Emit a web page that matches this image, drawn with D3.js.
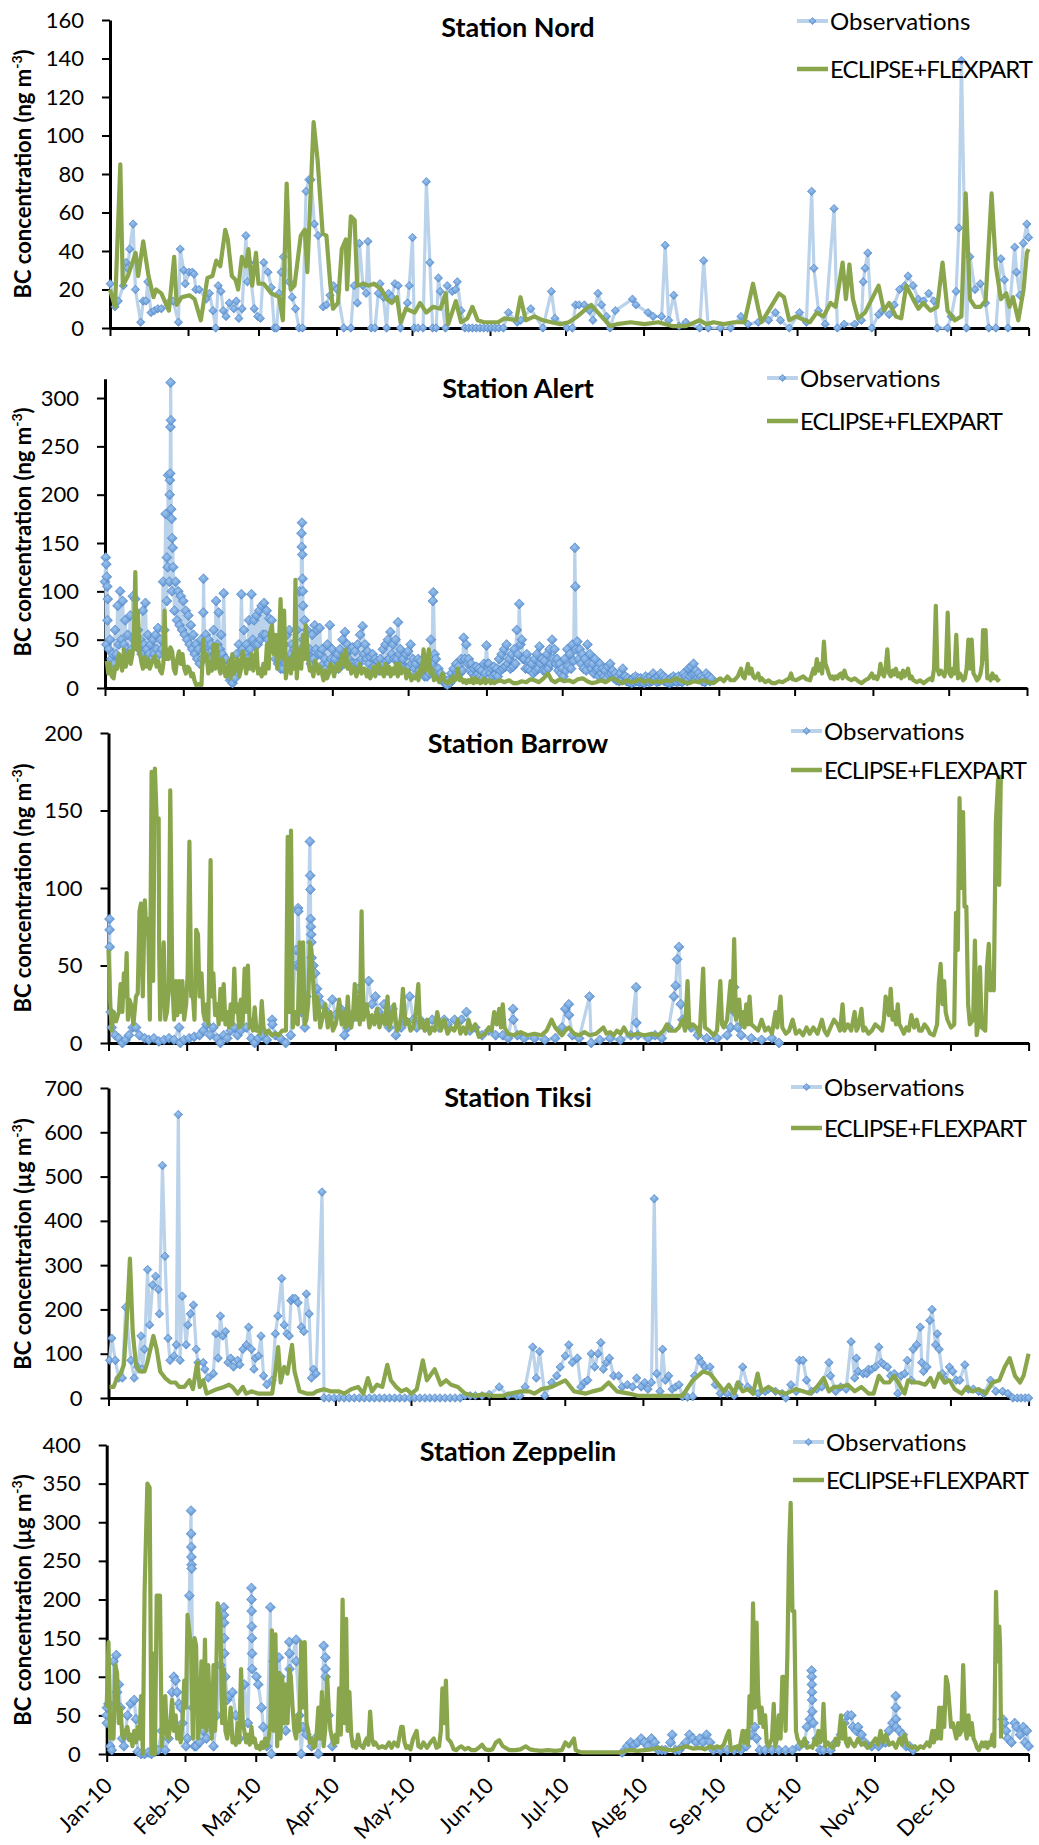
<!DOCTYPE html>
<html>
<head>
<meta charset="utf-8">
<script src="https://cdnjs.cloudflare.com/ajax/libs/d3/7.8.5/d3.min.js"></script>
<style>
  body { margin: 0; background: #fff; }
</style>
</head>
<body>
<div id="container"></div>
<script>
const WIDTH = 1039;
const HEIGHT = 1845;
const FONT = 'Lato, "Open Sans", sans-serif';
const YEAR_START = new Date(2010, 0, 1);
const YEAR_END = new Date(2011, 0, 1);
const DAY_MS = 864e5;

const OBS_LINE = '#bad2ea';
const OBS_EDGE = '#4d82c2';
const MODEL = '#8aa64c';

// tick labels and legend texts
const monthLabels = ['Jan-10', 'Feb-10', 'Mar-10', 'Apr-10', 'May-10', 'Jun-10',
                     'Jul-10', 'Aug-10', 'Sep-10', 'Oct-10', 'Nov-10', 'Dec-10'];
const seriesNames = ['Observations', 'ECLIPSE+FLEXPART'];
const stationNames = ['Station Nord', 'Station Alert', 'Station Barrow', 'Station Tiksi', 'Station Zeppelin'];
const units = ['ng', 'ng', 'ng', '\u00b5g', '\u00b5g'];

// data: [day of year 2010, value]
const nordObs = [
[0.1,23],[2,11],[3.3,14],[5.3,22],[6.4,34],[7,31],[7.8,41],[9.2,54],[10.1,20],[12.2,3],[13.2,14],[14.3,14],[15,24],[16.3,8],[17.6,9],[19,10],[20.4,10],[23.1,13],[25.1,14],[27.2,3],[27.9,41],[29.3,30],[29.9,23],[31.4,29],[32.7,29],[33.4,28],[34.1,20],[35.4,20],[38.2,15],[39.5,18],[40.9,9],[42,0],[43,22],[44.1,19],[45,9],[46.1,6],[47.4,13],[49.2,10],[50.2,14],[51.2,5],[52.5,10],[54,48],[54.6,24],[55.3,34],[57.3,10],[58.7,6],[59.8,5],[61.1,34],[62.8,29],[64.1,21],[65.3,0],[66.2,0],[67.2,18],[68,29],[68.9,37],[71.1,24],[72.4,16],[73.7,10],[75.1,0],[76.5,0],[77.9,71],[79,77],[79.9,77],[81.2,54],[82.7,48],[84.7,11],[86,12],[87.4,17],[88.8,22],[90.2,20],[92.9,0],[95.7,0],[97,22],[98.3,13],[99.1,44],[100.5,22],[101.8,18],[102.5,45],[103.8,0],[105.3,0],[106.6,18],[107.3,23],[108.6,16],[109.9,0],[110.7,18],[112,16],[113.2,23],[114.5,22],[115.4,0],[118.2,13],[118.9,22],[120.2,47],[120.9,0],[122.4,0],[124.4,0],[125.7,76],[127.1,34],[128.2,0],[129.6,0],[130.5,26],[131.2,19],[133.3,0],[134,22],[136,19],[137.3,20],[138,24],[139.5,9],[141,0],[142.5,0],[144,0],[145.5,0],[147,0],[148.5,0],[150,0],[151.5,0],[153,0],[154.5,0],[156.3,0],
[158.3,8],[161.8,3],[163.2,4],[167.2,10],[172,0],[175.4,19],[176.8,5],[181.6,0],[183.7,0],[185,12],[186.4,12],[188.5,12],[190.5,9],[191.9,4],[193.9,18],[195.3,12],[197.3,6],[198.7,0],[200.8,9],[207.6,15],[209,12],[213.8,8],[215.8,6],[219.2,6],[220.6,43],[222,4],[224,17],[226.1,1],[228.8,3],[234.3,0],[235.9,35],[237.7,0],[242.5,0],[246.6,0],[250.7,6],[253.5,2],[257.6,3],[261.7,4],[264.4,8],[266.4,4],[269.9,0],[274,8],[276.7,3],[278.8,71],[279.7,31],[281.5,9],[284.2,2],[287.7,62],[289,0],[291.7,2],[295.9,2],[298.6,4],[299.3,24],[300,31],[301.1,39],[302.7,0],[305.4,7],[306.8,9],[309.6,7],[311.6,12],[313.7,20],[315.7,22],[317.1,27],[319.1,22],[321.2,15],[323.2,14],[325.3,18],[327.4,14],[328.7,0],[332.8,0],[334.2,6],[336.2,19],[337.3,52],[338.3,139],[340.3,0],[341.7,37],[343.7,20],[345.8,23],[347.9,13],[349.2,0],[352,0],[354,36],[355.4,25],[356.8,0],[359.5,42],[360.2,29],[361.5,17],[362.9,44],[364.3,54],[365,47]
];

const nordModel = [
[0,20],[2,11],[4.1,85],[5.1,22],[7.1,27],[10.2,39],[11.2,27],[13.2,45],[15.3,27],[17.3,16],[18.3,20],[20.4,18],[23.4,9],[25.5,37],[26.5,12],[28.5,16],[31.6,17],[33.6,15],[36.1,4],[38.7,26],[40.7,27],[42.2,35],[43.8,32],[45.8,51],[46.8,46],[48.4,27],[49.9,25],[50.9,20],[52.4,37],[54,32],[55,41],[56.5,22],[58,39],[59,23],[61.1,23],[64.1,18],[67.2,16],[68.7,4],[70.2,75],[71.8,20],[73.3,22],[75.8,48],[77.4,51],[78.4,29],[80.9,107],[82.5,87],[84.5,49],[86,48],[87.5,23],[88.6,10],[90.6,13],[92.1,41],[93.7,46],[94.2,20],[95.7,58],[97.2,56],[98.2,22],[100.8,23],[102.8,22],[104.9,23],[107.9,20],[109.9,15],[112,13],[114,16],[115.5,3],[117.6,10],[121.1,8],[123.2,13],[125.7,8],[128.3,11],[131.3,10],[133.4,18],[134.4,2],[137.4,14],[139.5,3],[142,5],[144,11],[146.1,4],[148.6,3],[151.7,3],[154.2,3],[156.8,5],[161.4,4],
[163.1,16],[165.2,4],[168.6,6],[172,4],[175.4,3],[178.9,2],[182.3,3],[185.7,6],[188.4,9],[191.2,12],[193.9,8],[196.7,4],[198.7,1],[201.4,2],[206.9,3],[212.4,2],[217.9,3],[223.4,1],[228.8,1],[234.3,4],[237,2],[239.8,3],[243.9,2],[248,3],[252.1,3],[255.5,23],[257.6,10],[258.9,3],[261.7,9],[265.8,18],[267.8,16],[269.9,4],[272.6,6],[276,4],[278.1,3],[280.8,8],[283.5,6],[286.3,13],[288.3,11],[291.1,34],[292.4,15],[293.8,33],[295.2,15],[297.2,5],[300,8],[302.7,15],[305.4,22],[307.5,9],[309.6,13],[312.3,6],[314.4,5],[316.4,22],[319.1,15],[321.2,10],[323.2,13],[326,9],[328.7,11],[330.8,34],[332.8,9],[335.6,4],[338.3,6],[340,70],[341.7,15],[343.7,11],[345.8,11],[347.9,14],[350.3,70],[352,32],[354,15],[356.1,18],[357.4,11],[358.8,16],[360.9,4],[363,20],[364.3,39],[365,41]
];

// Alert observations: daily upper readings from 1 Jan, daily lower readings at mid-day,
// plus the extra readings stacked inside the spikes
const alertObsDaily = [
110,70,50,35,60,85,100,90,70,55,75,95,92,60,50,80,88,55,45,50,
55,62,50,110,180,220,316,125,110,100,95,90,80,75,65,55,45,40,50,113,
55,50,45,60,90,78,55,98,30,15,10,20,35,45,97,60,45,70,97,70,
75,80,85,88,80,72,70,50,40,30,35,45,55,60,45,40,60,100,171,70,
60,40,55,65,60,62,40,30,45,65,40,30,35,40,50,58,45,40,42,38,
45,55,64,45,38,32,35,30,28,30,40,45,50,58,45,50,68,40,30,35,
38,45,30,25,30,28,22,20,25,50,99,30,20,15,10,5,8,15,20,25,
22,30,52,45,30,25,20,22,20,18,25,44,25,20,22,20,30,35,40,45,
30,35,40,60,87,50,30,35,28,25,30,35,43,30,28,35,40,50,40,30,
25,20,30,40,35,45,145,48,40,35,30,45,35,25,30,20,25,20,18,22,
25,18,15,12,15,20,12,10,8,10,12,10,10,8,12,10,12,15,10,12,
15,12,10,8,10,12,10,12,10,15,12,20,22,25,18,15,12,10,15,12,10
];
const alertObsLow = [
45,40,30,25,35,45,50,45,40,35, 40,50,45,40,35,45,40,35,30,35,
40,35,40,60,90,110,100,80,70,65, 60,55,50,45,40,35,30,25,30,40,
35,30,30,35,45,40,35,30,15,8, 5,10,20,25,40,35,30,40,50,45,
45,50,55,55,50,45,40,30,25,20, 20,25,30,35,30,25,30,40,50,40,
35,25,30,40,35,35,25,20,25,30, 25,20,20,25,30,35,30,25,25,25,
25,30,35,30,25,20,22,20,18,20, 25,28,30,35,30,30,35,25,20,20,
22,25,20,15,18,15,12,12,15,25, 35,18,12,8,5,3,5,8,12,15,
15,18,30,25,18,15,12,14,12,10, 15,25,15,12,14,12,18,20,22,25,
20,22,25,35,45,30,20,20,18,15, 18,20,25,18,18,20,25,30,25,18,
15,12,18,22,20,28,40,30,25,20, 18,25,20,15,18,12,15,12,10,14,
15,10,8,7,8,12,7,6,5,6, 7,6,6,5,7,6,7,9,6,7,
9,7,6,5,6,7,6,7,6,9, 7,12,14,15,10,9,7,6,9,7
];
const alertObsStacks = [
[0.3,135],[0.5,128],[0.7,115],[0.9,105],[1.1,92],[24.5,135],[24.8,125],[25.6,200],[25.7,215],[25.8,222],[25.9,270],[26.1,277],[26.2,185],[26.4,175],[26.6,155],[26.8,145],
[38.9,78],[77.8,160],[77.9,146],[78.1,138],[78.2,113],[78.3,100],[78.4,85],[129.8,90],[186.2,105]
];

const alertModel = [
[0.7,28],[1.3,15],[2,25],[2.7,12],[3.4,10],[4.1,22],[4.8,20],[5.5,35],[6.1,30],[6.8,18],[7.5,40],[8.2,22],[8.9,30],[9.6,38],[10.2,25],[10.9,35],[11.5,60],[12,120],[12.5,40],[13,80],[13.6,40],[14.3,28],[15,20],[15.7,32],[16.3,22],[17,30],[17.7,20],[18.4,25],[19.1,30],[19.8,33],[20.4,22],[21.1,28],[21.8,18],[22.5,15],[23.1,25],[23.6,80],[24.1,30],[24.5,40],[25.2,30],[25.9,42],[26.6,38],[27.2,20],[27.9,15],[28.6,30],[29.3,38],[30,25],[30.7,35],[31.4,20],[32,15],[32.7,22],[33.4,20],[34.1,12],[34.8,15],[35.4,8],[36.1,3],[37.1,4],[38.2,3],[38.9,50],[39.5,28],[40.2,35],[40.9,15],[41.6,25],[42.3,18],[42.9,45],[43.6,20],[44.3,45],[45,22],[45.7,15],[46.4,30],[47,25],[47.7,12],[48.4,15],[49.1,28],[49.7,10],[50.4,35],[51.1,15],[51.8,25],[52.5,30],[53.2,12],[53.9,20],[54.5,38],[55.2,30],[55.9,15],[56.6,30],[57.3,20],[58,35],[58.7,18],[59.3,30],[60,40],[60.6,15],[61.3,20],[62,12],[62.7,25],[63.4,15],[64.1,45],[64.8,20],[65.4,58],[66.1,65],[66.8,35],[67.5,55],[68.2,20],[68.8,40],[69.5,92],[70.2,30],[70.9,80],[71.6,10],[72.3,25],[72.9,30],[73.6,15],[74.3,35],[74.9,20],[75.4,112],[75.9,10],[76.4,28],[77,40],[77.7,20],[78.4,55],[79,30],[79.5,65],[80.4,30],[81.1,18],[81.8,20],[82.5,12],[83.1,28],[83.8,25],[84.5,15],[85.2,22],[85.9,15],[86.5,8],[87.2,18],[87.9,10],[88.6,15],[89.3,25],[90,20],[90.7,12],[91.3,22],[92,25],[92.7,18],[93.4,30],[94.1,35],[94.8,22],[95.4,40],[96.1,20],[96.8,25],[97.5,15],[98.2,22],[98.8,20],[99.5,12],[100.2,18],[100.9,25],[101.6,15],[102.2,20],[102.9,20],[103.6,12],[104.3,18],[105,10],[105.7,15],[106.4,22],[107,12],[107.7,20],[108.4,25],[109.1,15],[109.8,20],[110.4,12],[111.1,25],[111.8,15],[112.5,22],[113.1,12],[113.8,20],[114.5,15],[115.2,25],[115.9,12],[116.6,25],[117.2,15],[117.9,20],[118.6,20],[119.3,10],[120,18],[120.7,15],[121.3,8],[122,12],[122.7,10],[123.4,15],[124.1,8],[124.8,20],[125.4,15],[126.1,40],[126.8,18],[127.5,25],[128.2,40],[128.8,15],[129.5,20],[130.2,8],[130.9,12],[131.6,10],[132.3,6],[133,10],[133.6,15],[134.3,8],[135,6],[135.7,5],[136.4,8],[137,6],[137.7,12],[138.4,8],[139.1,10],[139.7,20],[140.4,8],[141.1,10],[141.8,6],[142.5,8],[143.1,5],[143.8,8],[144.5,6],[145.2,10],[145.9,5],[146.6,10],[147.3,6],[148,8],[148.6,5],[149.3,6],[150,10],[150.7,5],[151.4,8],[152,8],[152.7,5],[153.4,7],[154.1,5],[154.7,6],
[156.4,8],[158,6],[160,8],[161.6,5],[163.2,5],[165,7],[166.8,6],[168.4,9],[170,8],[171.8,6],[173.6,10],[175.4,15],[176.8,8],[178.2,6],[180,9],[181.8,7],[183.6,8],[185.4,6],[187.2,9],[189.1,10],[190.9,7],[192.7,5],[194.5,6],[196.4,8],[198.2,6],[200,9],[201.4,10],[203.2,7],[205,5],[206.6,8],[208.2,6],[210,7],[211.8,9],[213.4,6],[215,8],[216.8,6],[218.6,7],[220.4,6],[222.2,8],[224,7],[225.9,10],[227.7,8],[229.5,6],[231.4,5],[233.2,7],[235,6],[236.8,8],[238.9,6],[240.9,5],[242.3,8],[243.6,10],[245,7],[246.4,12],[247.7,8],[249.1,8],[250.5,12],[251.8,20],[252.5,12],[253.2,10],[253.9,18],[254.5,25],[255.2,15],[255.9,20],[256.6,12],[257.3,10],[258,12],[258.6,15],[259.3,8],[260,10],[261.4,6],[262.7,8],[264.1,5],[265.4,5],[266.8,7],[268.2,6],[269.5,8],[270.9,10],[271.6,15],[272.3,9],[273.6,8],[275,10],[276.4,12],[277.7,9],[279.1,8],[280.5,20],[281.1,15],[281.8,30],[282.5,18],[283.2,25],[283.9,15],[284.6,48],[285.2,25],[285.9,20],[286.6,14],[287.3,10],[288,12],[288.6,9],[289.3,12],[290,10],[290.7,14],[291.4,15],[292,10],[292.7,18],[293.4,12],[294.1,10],[295.5,8],[296.8,10],[298.2,7],[299.5,5],[300.9,8],[302.3,10],[303.6,15],[304.3,10],[305,12],[305.7,9],[306.4,14],[307,25],[307.7,15],[308.4,12],[309,20],[309.7,40],[310.4,15],[311.1,12],[311.8,18],[312.4,14],[313.1,20],[313.8,12],[314.5,15],[315.2,10],[315.9,18],[316.5,12],[317.2,15],[317.9,20],[318.6,10],[319.3,12],[320,8],[321.4,6],[322.7,8],[324.1,5],[325.5,8],[326.8,10],[327.5,8],[328.2,20],[328.9,85],[329.5,20],[330.2,14],[330.9,18],[331.6,15],[332.3,12],[332.9,20],[333.6,78],[334.3,15],[335,12],[335.7,20],[336.3,15],[337,55],[337.7,10],[338.4,15],[339.1,12],[339.7,8],[340.4,10],[341.1,20],[341.8,50],[342.5,20],[343.1,50],[343.8,15],[344.5,12],[345.2,8],[345.9,10],[346.6,15],[347.2,25],[347.6,60],[348.2,30],[348.6,60],[349.3,10],[350,12],[350.6,8],[351.3,15],[352,10],[352.7,12],[353.4,8],[354.1,10]
];

const barrowObs = [
[0.4,80],[0.45,73],[0.5,62],[0.9,20],[1.3,10],[2.7,5],[4.1,3],[5.5,0],[6.8,2],[8.1,5],[9.6,10],[10.9,10],[12.3,5],[14.4,3],[16,2],[18,3],[20,1],[22,2],[24,3],[26,2],[28,10],[28.5,0],[30,2],[32,3],[34,4],[36.1,5],[37.6,8],[38.9,12],[40.3,5],[41.6,10],[43.1,3],[44.4,0],[45.7,5],[47.1,3],[48.5,8],[49.9,10],[51.2,5],[52.5,8],[54.7,10],[56.7,3],[58,0],[59.5,3],[60.8,5],[62.8,2],[64.9,15],[65,12],[66.2,5],[68.2,3],[70.3,0],[72.3,5],[74.4,60],[74.6,50],[75.2,87],[75.3,85],[75.8,50],[76.5,20],[77.9,10],[78.5,30],[79.9,130],[80,108],[80.1,99],[80.2,80],[80.3,75],[80.4,70],[80.5,65],[80.6,55],[81.3,50],[82,45],[82.7,35],[83.3,30],[84.7,25],[86.7,20],[88.8,28],[90.1,18],[92.2,22],[93.6,5],[94.9,10],[96.3,15],[97.7,20],[99.1,35],[100.4,25],[101.7,20],[103.2,40],[104.5,25],[105.9,30],[107.2,20],[109.3,25],[111.3,10],[112.7,22],[114,5],[116.1,10],[117.5,15],[119.5,30],[120.9,15],[122.3,10],[123.6,15],[125.7,10],[128.4,15],[131.1,10],[133.2,15],[134.5,12],[137.3,15],[140,15],[142,20],[143.4,8],[145.5,10],[148.2,5],[150.9,8],[153.6,5],[156.4,5],[158.5,3],[160.5,22],[160.6,15],
[162.2,5],[164.9,3],[169,3],[173.1,2],[177.2,3],[179.9,10],[181.2,22],[182.6,25],[182.7,18],[184,5],[186.7,3],[190.8,30],[191.5,0],[194.9,2],[199,3],[203.1,2],[207.2,5],[209.3,36],[209.4,13],[210,5],[214.1,3],[216.8,5],[219.5,3],[222.2,10],[224.3,30],[225,37],[225.6,54],[226.3,62],[227,25],[227.7,15],[229.1,15],[231.1,10],[233.8,5],[237.3,3],[241.4,3],[245.4,5],[246.8,10],[248.2,36],[248.3,20],[249.6,10],[251,5],[255,3],[259.1,2],[263.2,3],[266,0]
];

const barrowModel = [
[0,60],[0.7,25],[1.3,8],[2,20],[3,14],[4.1,20],[4.8,38],[5.5,20],[6.1,45],[6.6,30],[7.2,58],[7.7,15],[8.3,28],[8.9,25],[9.9,12],[10.9,30],[11.6,32],[12.3,85],[12.9,90],[13.6,30],[14.4,92],[15.1,70],[15.7,80],[16.4,15],[17.1,175],[17.7,40],[18.4,177],[19.1,145],[19.9,145],[20.1,60],[20.5,15],[21.2,40],[21.9,65],[22.5,15],[23.2,20],[23.9,35],[24.5,163],[25.3,40],[26,15],[26.7,40],[27.3,18],[28,40],[28.6,20],[29.3,40],[30,15],[30.8,25],[31.4,45],[32.1,130],[32.8,30],[33.5,30],[34.1,15],[34.8,73],[35.5,70],[36.1,30],[36.9,45],[37.6,20],[38.2,15],[38.9,25],[39.6,12],[40.5,118],[40.9,30],[41.6,45],[42.3,18],[43.1,25],[43.7,12],[44.4,35],[45.1,15],[45.7,38],[46.4,12],[47.1,20],[47.8,10],[48.5,25],[49.2,12],[49.9,48],[50.5,20],[51.2,25],[51.8,10],[52.5,28],[53.2,12],[54,48],[54.6,20],[55.3,50],[56,10],[56.7,15],[57.3,8],[58,23],[58.7,8],[59.5,10],[60.1,6],[60.8,27],[61.5,10],[62.5,6],[63.5,8],[64.8,5],[66.2,6],[67.5,5],[68.9,8],[70.4,8],[71.1,133],[71.7,20],[72.4,137],[73.1,10],[74.4,20],[75.1,12],[75.8,65],[76.5,20],[77.2,65],[77.8,12],[78.5,15],[79.2,25],[79.9,65],[80.5,60],[82,15],[82.7,30],[83.3,25],[84,10],[84.7,15],[85.4,20],[86,25],[87,10],[88.1,20],[89,8],[90.1,12],[90.8,18],[91.5,28],[92.5,12],[93.6,20],[94.2,10],[94.9,30],[95.6,12],[96.3,10],[97,18],[97.7,38],[98.4,15],[99.1,30],[99.7,12],[100.4,85],[101.1,15],[101.8,20],[102.4,25],[103.5,10],[104.5,18],[105.5,12],[106.5,22],[107.5,10],[108.6,18],[109.6,12],[110.7,30],[111.3,10],[112.3,15],[113.3,25],[114.4,8],[115.4,10],[116.1,18],[116.8,35],[117.8,12],[118.8,15],[119.8,8],[120.9,10],[121.9,20],[122.9,38],[123.6,10],[124.3,15],[125.4,8],[126.4,15],[127.4,6],[128.4,10],[129.4,8],[130.4,20],[131.8,8],[133.2,15],[134.5,6],[135.9,10],[137.2,8],[138.6,15],[139.6,6],[140.7,10],[141.8,6],[142.8,15],[144.1,8],[145.5,12],[146.9,4],[148.2,5],[149.5,6],[150.9,10],[152,8],[153,20],[154,12],[155,22],[155.7,10],[156.4,25],[157.1,10],
[158.5,6],[160.8,5],[163.5,7],[166.2,5],[169,6],[171.7,5],[173.8,8],[175.8,15],[177.2,10],[179.9,5],[181.2,8],[182.6,10],[184.7,6],[186.7,5],[188.8,7],[190.8,5],[193.5,6],[196.3,10],[197.6,6],[199,7],[200.4,5],[201.7,8],[203.1,6],[204.5,10],[205.8,6],[207.2,5],[209.9,6],[212.7,5],[215.4,6],[218.1,5],[220.2,8],[221.5,12],[222.9,8],[224.9,8],[226.3,10],[227.7,15],[228.7,8],[229.7,40],[230.4,10],[231.8,12],[233.2,10],[234.5,5],[235.9,48],[236.6,10],[238.3,8],[240,5],[241.4,8],[242.7,40],[243.4,12],[244.1,10],[245.4,15],[246.8,40],[247.5,20],[248.2,67],[248.9,15],[249.6,22],[250.2,28],[250.9,12],[251.6,20],[252.3,10],[253,25],[253.7,12],[254.3,30],[255,12],[256.4,10],[257.7,8],[259.1,15],[260.5,8],[261.8,10],[263.2,6],[264.6,20],[265.3,10],[266.6,30],[267.3,10],[268.7,6],[270,8],[271.4,15],[272.7,6],[274.1,8],[275.5,5],[276.9,10],[278.2,6],[279.6,10],[281.3,6],[283,15],[284,8],[285.1,5],[286.4,10],[287.8,15],[289.2,12],[290.2,8],[291.2,25],[291.9,8],[293.3,12],[294.6,8],[296,20],[296.7,8],[297.4,10],[298.7,22],[299.4,8],[300.1,10],[301.5,6],[302.8,8],[304.2,12],[305.6,10],[306.9,8],[307.6,15],[308.3,30],[309.6,18],[310.3,35],[311,15],[311.7,20],[312.4,12],[313.1,25],[313.7,12],[314.4,10],[315.5,6],[316.5,10],[317.5,8],[318.5,18],[319.6,10],[320.6,15],[321.6,8],[322.6,8],[323.7,12],[324.7,10],[326,6],[327.4,5],[328.7,12],[329.4,39],[330.1,51],[330.8,25],[331.5,40],[332.1,20],[332.8,15],[334.2,10],[335.5,12],[336.2,84],[336.9,60],[337.6,158],[338.3,100],[339,149],[339.6,88],[340.3,88],[341,25],[341.7,12],[343,15],[343.7,66],[344.4,5],[345.1,12],[345.7,49],[346.4,10],[347.8,8],[348.5,49],[349.2,64],[349.8,34],[350.5,45],[351.2,34],[352,142],[352.9,170],[353.3,102],[354,173]
];

const tiksiObs = [
[0.4,85],[1.3,135],[2.7,85],[4.1,45],[5.5,45],[6.8,205],[8.9,85],[10.2,45],[11.6,70],[12.9,140],[13.4,65],[14.3,110],[15.5,290],[16.3,165],[17.5,255],[18.7,275],[19.8,245],[20.2,190],[21.4,525],[22.4,320],[23.6,135],[24.4,85],[26,95],[26.9,120],[27.7,640],[28.4,85],[29.3,230],[30.8,120],[31.5,165],[32.5,190],[33.7,210],[34.8,110],[35.5,80],[37.6,80],[38.2,65],[39.6,45],[41.6,55],[42.6,145],[43.5,90],[44.4,185],[45.3,140],[46.4,150],[47.4,80],[48.5,90],[49.6,70],[51.2,85],[52.1,75],[53.3,110],[54.7,120],[55.6,160],[56.7,110],[57.7,65],[58.3,90],[59.5,95],[60.5,140],[61.5,50],[62.8,30],[64.9,40],[66.2,145],[67.2,185],[68.7,270],[69.7,165],[70.8,145],[71.7,140],[72.4,220],[73.1,225],[74.1,225],[75.2,215],[76.5,160],[77.5,150],[78.5,235],[79.6,190],[80.5,45],[81.3,65],[82.4,55],[84.7,465],[85.5,0],
[87.5,0],[89.5,0],[91.5,0],[93.5,0],[95.5,0],[97.5,0],[99.5,0],[101.5,0],[103.5,0],[105.5,0],[107.5,0],[109.5,0],[111.5,0],[113.5,0],[115.5,0],[117.5,0],[119.5,0],[121.5,0],[123.5,0],[125.5,0],[127.5,0],[129.5,0],[131.5,0],[133.5,0],[135.5,0],[137.5,0],[139.5,0],
[141.4,5],[143.5,5],[145.5,5],[148.2,5],[151,8],[155,25],[158.5,5],[161.9,5],[163.2,5],[165.3,25],
[168.3,115],[169.7,45],[171,105],[173.1,5],[175.8,35],[177.8,50],[179.2,70],[181.2,95],[182.6,120],[184,80],[186,90],[187.4,25],[188.8,35],[190.1,40],[191.5,100],[192.9,70],[194.2,100],[195.3,125],[196.3,65],[197.6,80],[198.7,90],[200.4,50],[202.4,50],[203.8,25],[205.8,30],[207.9,25],[209.5,45],[211.3,25],[212.7,35],[214,20],[215.4,35],[216.5,450],[217.5,55],[218.8,15],[219.8,110],[220.9,40],[222.2,50],[223.6,20],[225,25],[226.3,30],[227.7,3],[229.7,2],[231.8,3],[232.5,50],[234.2,90],[235.2,80],[236.6,70],[238.6,70],[240.7,30],[242.7,10],[245.4,10],[248.2,5],[250.2,30],[251.6,70],[253.6,25],[255.7,15],[257.7,10],[260.5,15],[261.8,20],[264.6,15],[267.3,10],[268.7,0],[270.7,30],[272.8,15],[274.1,85],[275.5,85],[276.9,40],[278.9,15],[281,20],[283,25],[285.8,80],[286.4,50],[288.5,15],[290.5,25],[292.6,20],[294.6,127],[296,45],[296.7,90],[297.4,60],[299.4,55],[300.8,55],[301.5,65],[302.8,65],[304.2,70],[305.6,115],[306.6,80],[307.6,75],[309,70],[310.3,50],[311.7,55],[313.1,10],[314.4,50],[315.8,55],[316.9,85],[318.5,40],[319.2,110],[320.6,120],[322,160],[322.6,80],[323.3,60],[324.7,70],[325.8,175],[326.7,200],[328.1,120],[328.8,145],[329.5,110],[330.8,55],[332.2,40],[333.6,70],[334.9,60],[336.3,40],[337.7,40],[339.7,75],[341.1,20],[343.1,20],[345.2,15],[347.2,10],[349.9,40],[352,15],[354.7,15],[356.8,10],[358.8,0],[360.5,0],[362,0],[363.6,0],[365,0]
];

const tiksiModel = [
[0.4,25],[2,25],[3.4,45],[4.8,55],[6.1,75],[7.5,200],[8.5,315],[9.6,150],[10.9,75],[12.3,60],[14.3,60],[15.4,80],[17.8,140],[19.1,110],[20.5,60],[22.5,45],[24.6,35],[26.6,35],[28,25],[30.1,25],[32.1,40],[33.5,20],[35.2,80],[36.2,25],[37.6,40],[38.9,10],[41,15],[43,20],[45.8,25],[47.8,30],[49.2,25],[51.2,10],[53.3,25],[54.6,10],[56.7,15],[59.4,10],[63.5,10],[64.9,10],[66.2,60],[67.3,115],[68.3,35],[69.7,70],[71,55],[72.8,120],[73.8,60],[75.8,15],[78.5,10],[81.3,10],[82.6,15],[85.4,20],[88.1,15],[91.5,15],[93.6,10],[96.3,20],[99,25],[101.1,10],[102.9,45],[104.5,15],[106.5,30],[108.6,25],[110.6,75],[112,40],[114.1,25],[116.1,15],[118.2,20],[120.2,10],[122.3,20],[124.7,85],[126.3,40],[129.4,65],[131.8,30],[133.9,40],[135.9,30],[138.6,25],[141.4,10],[145.5,5],[148.2,8],[152.3,5],[156.4,5],
[159.4,10],[163.5,15],[166.9,15],[169,10],[171.7,20],[175.8,25],[181.2,40],[184.7,15],[189.4,10],[192.2,15],[195.6,20],[198.4,35],[201.7,15],[206.5,10],[209.9,5],[216.8,5],[223.6,5],[227.7,5],[231.8,40],[235.9,60],[238.6,55],[241.4,35],[244.1,15],[246.1,30],[248.2,10],[249.6,35],[251.6,15],[253.6,20],[255.7,10],[257.5,55],[259.1,15],[261.8,25],[264.6,15],[268.7,10],[272.8,20],[275.5,15],[278.2,10],[281,25],[283.7,45],[285.8,15],[287.8,25],[290.5,25],[293.3,30],[296,15],[298.7,25],[301.5,10],[303.5,10],[305.6,50],[307.6,35],[309.7,35],[311.7,50],[313.8,30],[315.8,10],[317.2,40],[319.2,35],[321.3,35],[324,30],[326.1,45],[327.5,25],[329.5,55],[331.6,35],[333.6,40],[335.7,20],[338.4,10],[340.5,25],[342.5,15],[345.2,20],[347.9,10],[350.7,35],[353.4,40],[355.5,70],[357.5,90],[359.6,50],[361.6,35],[363,50],[365,100]
];

const zeppelinObs = [
[0,50],[0.05,40],[0.1,60],[0.7,65],[1.4,10],[2,5],[2.7,120],[3.8,128],[4.1,80],[4.8,90],[5.5,60],[6.1,20],[6.8,10],[8.2,50],[9.5,65],[10.9,70],[11.6,45],[12.3,3],[13.6,0],[15,0],[16.4,2],[17.7,0],[19.1,3],[20.4,5],[21.8,30],[23.2,5],[24.5,20],[25.9,80],[26.6,100],[27.3,95],[27.9,80],[28.6,65],[29.3,60],[30,40],[31.4,10],[32,20],[32.7,205],[33.4,315],[33.45,285],[33.5,268],[33.55,255],[33.6,245],[33.65,240],[34.1,60],[34.8,10],[35.4,10],[36.8,15],[38.2,30],[39.5,20],[40.9,40],[42.3,10],[43.6,50],[45,115],[46.4,190],[46.45,180],[46.5,170],[46.55,150],[46.6,130],[47,100],[47.7,70],[48.4,75],[49.8,80],[51.1,50],[52.5,20],[54.5,90],[55.9,40],[57.3,215],[57.35,200],[57.4,185],[57.45,165],[57.5,150],[57.55,130],[57.6,110],[59.3,100],[60,90],[61.3,60],[62,35],[63.4,10],[64.8,190],[65.2,0],[66.1,120],[66.8,75],[68.2,125],[68.8,100],[69.5,60],[70.9,30],[72.3,145],[72.35,130],[72.4,110],[75,148],[75.05,120],[76.3,50],[77,0],[77.7,35],[79.1,25],[81.1,10],[82.5,20],[83.8,0],[85.2,30],[85.9,140],[86.6,125],[86.65,110],[86.7,100],[87.9,50],[89.3,10],[90,null],
[204.1,2],[206.1,10],[207.5,15],[208.8,12],[210.2,15],[211.6,20],[212.9,15],[214.3,10],[215.7,20],[217,15],[218.4,5],[219.8,5],[221.1,5],[223.2,15],[223.9,25],[225.2,5],[226.6,5],[228,10],[229.3,15],[230.7,25],[232.1,20],[233.4,15],[234.8,20],[236.1,15],[237.5,25],[238.9,15],[240.2,5],[243,5],[245.7,5],[248.4,5],[251.1,5],[253.2,10],[255.2,25],[256.6,35],[257.3,20],[258.6,5],[260.7,5],[263.4,5],[266.1,5],[268.8,5],[271.5,5],[274.2,10],[276.3,15],[277.2,35],[278.4,45],[279.1,108],[279.15,100],[279.2,90],[279.25,80],[279.3,70],[279.35,55],[279.8,40],[281.1,20],[282.5,5],[283.8,5],[286.6,5],[288.6,15],[290.7,25],[292.1,40],[293.4,50],[294.8,50],[295.5,35],[296.8,30],[297.5,35],[298.9,25],[300.2,15],[302.9,10],[305.6,10],[308.3,15],[309.7,30],[311.1,40],[312.4,75],[312.45,60],[312.5,45],[312.55,35],[313.8,30],[315.2,25],[316.5,10],[317.9,10],[319.3,5],[320,null],
[354.8,45],[355.4,40],[356.1,30],[356.8,20],[358.2,15],[359.5,40],[360.2,35],[361.6,25],[362.9,35],[363.6,15],[364.3,30],[365,10]
];

const zeppelinModel = [
[0,60],[0.7,145],[1.4,20],[2,50],[2.7,20],[3.4,115],[4.1,105],[4.8,40],[5.5,60],[6.1,25],[6.8,20],[7.5,30],[8.2,35],[8.9,18],[9.5,25],[10.2,10],[10.9,30],[11.6,15],[12.3,35],[13,20],[13.6,75],[14.3,0],[15,210],[16.1,350],[17,345],[17.7,0],[18.4,130],[19.1,0],[19.8,205],[21.1,205],[21.8,10],[22.5,40],[23.2,75],[23.8,25],[24.5,20],[25.2,40],[25.9,70],[26.6,30],[27.3,50],[27.9,20],[28.6,35],[29.3,15],[30,40],[30.7,95],[31.4,60],[32,180],[33,150],[33.4,140],[34.1,20],[34.8,150],[35.4,140],[36.1,20],[36.8,40],[37.5,120],[38.2,35],[38.9,148],[39.5,30],[40.2,115],[40.9,50],[41.6,20],[42.3,115],[42.9,30],[43.9,195],[45,180],[45.7,40],[46.4,110],[47,30],[47.7,20],[48.4,35],[49.1,60],[49.8,15],[50.4,20],[51.1,12],[51.8,40],[52.5,15],[53.2,110],[53.9,40],[54.5,30],[55.2,15],[55.9,25],[56.6,12],[57.3,35],[57.9,15],[58.6,20],[59.3,8],[60,10],[60.7,6],[61.3,15],[62,8],[62.7,20],[63.4,10],[64.1,20],[64.8,40],[65.4,160],[66.1,30],[66.8,155],[67.5,10],[68.2,105],[68.8,20],[69.5,100],[70.2,40],[70.9,90],[71.6,40],[72.3,110],[72.9,100],[73.6,60],[74.3,30],[75,20],[75.7,50],[76.3,30],[77,145],[77.7,60],[78.4,145],[79.1,40],[79.8,30],[80.4,15],[81.1,20],[81.8,8],[82.5,10],[83.1,25],[83.8,60],[84.5,20],[85.2,80],[85.9,10],[86.6,35],[87.3,100],[87.9,60],[88.6,30],[89.3,20],[90,12],[90.7,25],[91.3,15],[92,85],[92.7,25],[93.4,200],[94.1,40],[94.8,175],[95.4,30],[96.1,80],[96.8,25],[97.5,10],[98.2,15],[98.8,8],[99.5,25],[100.2,12],[100.9,10],[101.6,8],[102.2,15],[102.9,20],[103.6,12],[104.3,55],[105,20],[105.7,12],[106.3,15],[107.7,8],[109.1,10],[110.4,8],[111.8,15],[112.8,8],[113.8,15],[115.2,10],[116.6,35],[117.2,35],[117.9,15],[118.6,8],[119.3,10],[120.3,6],[121.3,20],[122.7,30],[123.4,10],[124.4,8],[125.4,15],[126.8,8],[128.2,15],[129.5,20],[130.6,8],[131.6,10],[132.3,30],[132.9,85],[133.6,40],[134.3,95],[135,20],[136.3,15],[137.4,6],[138.4,5],[139.4,8],[140.4,10],[141.8,6],[143.1,8],[144.5,5],[145.9,5],[147.3,8],[148.6,12],[149.9,6],[151.3,5],[152.7,6],[154.1,15],[155.4,18],[156.8,10],
[159.5,5],[161.8,5],[163.8,6],[165.9,10],[167.6,6],[169.3,5],[172,4],[174.8,5],[177.5,4],[180.2,5],[181.6,15],[183,10],[185,20],[185.7,5],[187,3],[188.4,2],[192.5,2],[196.6,2],[200,2],[203.4,2],[205.4,4],[207.5,5],[210.2,4],[212.9,5],[215.7,6],[218.4,8],[221.1,6],[223.9,5],[226.6,7],[229.3,10],[232.1,7],[234.8,8],[236.8,6],[238.9,10],[240.2,7],[241.6,10],[243,8],[244.3,12],[245.7,25],[246.4,30],[247.1,5],[248.4,8],[249.8,10],[250.5,6],[251.8,30],[252.5,15],[253.2,30],[253.9,12],[254.5,75],[255.2,40],[255.9,195],[256.6,60],[257.3,170],[257.9,80],[258.6,40],[259.3,60],[260,35],[260.7,50],[261.3,15],[262,10],[262.7,15],[263.4,20],[264.1,65],[264.7,10],[265.4,20],[266.1,50],[266.8,20],[267.5,100],[268.1,100],[268.8,30],[269.5,130],[270.2,270],[270.8,325],[271.5,185],[272.2,185],[272.9,30],[273.5,20],[274.2,15],[275.2,10],[276.3,20],[277.3,8],[278.4,10],[279.4,8],[280.4,20],[281.1,12],[281.8,30],[282.5,15],[283.2,20],[283.8,65],[284.5,10],[285.5,15],[286.6,10],[287.6,8],[288.6,20],[289.6,12],[290.7,50],[291.4,20],[292.1,40],[292.7,15],[293.4,10],[294.1,20],[294.8,15],[296.1,10],[297.5,20],[298.8,12],[300.2,15],[301.2,8],[302.3,10],[303.3,15],[304.4,20],[305.4,12],[306.4,30],[307.4,15],[308.5,25],[309.8,12],[311.2,15],[312.5,8],[313.9,20],[314.9,12],[315.9,25],[317,12],[318,10],[319,8],[320,10],[321,6],[322.1,10],[323.4,8],[324.8,15],[325.8,10],[326.9,30],[327.5,15],[328.2,30],[328.9,20],[329.6,60],[330.3,20],[330.9,60],[331.6,35],[332.3,100],[333,90],[333.7,60],[334.3,35],[335,40],[335.7,30],[336.4,20],[337.1,40],[337.7,25],[338.4,30],[339.1,115],[339.8,35],[340.5,20],[341.2,50],[341.8,25],[342.5,40],[343.2,20],[343.9,15],[344.6,8],[345.3,5],[346.6,15],[347.3,10],[348,15],[348.7,8],[349.3,15],[350,12],[350.7,25],[351.4,10],[352.1,210],[352.7,120],[353.4,165],[353.7,140],[354.1,20]
];

const alertObs = alertObsDaily.map((v, i) => [i, v])
  .concat(alertObsLow.map((v, i) => [i + 0.5, v]))
  .concat(alertObsStacks)
  .sort((a, b) => a[0] - b[0]);

// layout of the five stacked panels
const panels = [
  { obs: nordObs, model: nordModel, yMax: 160, yTickMax: 160, yStep: 20, mark: 4.2,
    x0: 110, x1: 1028.6, y0: 328, yTop: 20, titleY: 37, obsLegY: 21, modLegY: 69, legX: 797, yLabelY: 174 },
  { obs: alertObs, model: alertModel, yMax: 320, yTickMax: 300, yStep: 50, mark: 5,
    x0: 105, x1: 1027, y0: 688, yTop: 378.7, titleY: 398, obsLegY: 378, modLegY: 421, legX: 767, yLabelY: 532 },
  { obs: barrowObs, model: barrowModel, yMax: 200, yTickMax: 200, yStep: 50, mark: 5,
    x0: 108.5, x1: 1028.6, y0: 1043, yTop: 733, titleY: 753, obsLegY: 731, modLegY: 770, legX: 791, yLabelY: 888 },
  { obs: tiksiObs, model: tiksiModel, yMax: 700, yTickMax: 700, yStep: 100, mark: 4.3,
    x0: 108.5, x1: 1028.6, y0: 1398, yTop: 1088, titleY: 1107, obsLegY: 1087, modLegY: 1128, legX: 791, yLabelY: 1244 },
  { obs: zeppelinObs, model: zeppelinModel, yMax: 400, yTickMax: 400, yStep: 50, mark: 5,
    x0: 106.7, x1: 1028.6, y0: 1754, yTop: 1445, titleY: 1461, obsLegY: 1442, modLegY: 1480, legX: 793, yLabelY: 1600 }
];

const svg = d3.select('#container')
              .append('svg')
                .attr('width', WIDTH)
                .attr('height', HEIGHT)
                .style('font-family', FONT);

// bevelled marker fill, like the office chart diamonds
const grad = svg.append('defs').append('radialGradient')
    .attr('id', 'markFill').attr('cx', '45%').attr('cy', '40%').attr('r', '60%');
grad.append('stop').attr('offset', '0%').attr('stop-color', '#9cc2ec');
grad.append('stop').attr('offset', '100%').attr('stop-color', '#5a93d4');

const toDate = d => new Date(YEAR_START.getTime() + d * DAY_MS);
const diamondPath = r => `M0,${-r}L${r},0L0,${r}L${-r},0Z`;
const months = d3.timeMonth.range(YEAR_START, d3.timeDay.offset(YEAR_END, 1));

panels.forEach((p, idx) => {
    const g = svg.append('g');
    const x = d3.scaleTime().domain([YEAR_START, YEAR_END]).range([p.x0, p.x1]);
    const y = d3.scaleLinear().domain([0, p.yMax]).range([p.y0, p.yTop]);

    // axes
    const axisLeft = d3.axisLeft(y)
        .tickValues(d3.range(0, p.yTickMax + 1, p.yStep))
        .tickSize(8).tickSizeOuter(0).tickPadding(18);
    g.append('g')
      .attr('transform', `translate(${p.x0},0)`)
      .call(axisLeft)
      .call(a => a.select('.domain').attr('stroke-width', 3))
      .call(a => a.selectAll('.tick line').attr('stroke-width', 2))
      .call(a => a.selectAll('.tick text')
                  .attr('font-size', 22).attr('font-family', FONT).attr('fill', '#000'));

    const axisBottom = d3.axisBottom(x)
        .tickValues(months).tickFormat('')
        .tickSize(8).tickSizeOuter(0);
    g.append('g')
      .attr('transform', `translate(0,${p.y0})`)
      .call(axisBottom)
      .call(a => a.select('.domain').attr('stroke-width', 3))
      .call(a => a.selectAll('.tick line').attr('stroke-width', 2));

    if (idx === panels.length - 1) {
        g.selectAll('.month-label')
          .data(monthLabels)
          .enter()
          .append('text')
            .attr('transform', (d, i) => `translate(${x(months[i]) + 7},${p.y0 + 33}) rotate(-45)`)
            .attr('text-anchor', 'end')
            .attr('font-size', 22)
            .text(d => d);
    }

    // observations
    const line = d3.line()
        .defined(d => d[1] != null)
        .x(d => x(toDate(d[0])))
        .y(d => y(d[1]));

    g.append('path')
      .datum(p.obs)
      .attr('d', line)
      .attr('fill', 'none')
      .attr('stroke', OBS_LINE)
      .attr('stroke-width', 3.2)
      .attr('stroke-linejoin', 'round');

    g.selectAll('.obs-mark')
      .data(p.obs.filter(d => d[1] != null))
      .enter()
      .append('path')
        .attr('d', diamondPath(p.mark))
        .attr('transform', d => `translate(${x(toDate(d[0]))},${y(d[1])})`)
        .attr('fill', 'url(#markFill)')
        .attr('stroke', OBS_EDGE)
        .attr('stroke-width', 0.6);

    // model
    g.append('path')
      .datum(p.model)
      .attr('d', line)
      .attr('fill', 'none')
      .attr('stroke', MODEL)
      .attr('stroke-width', 4.2)
      .attr('stroke-linejoin', 'round');

    // title
    g.append('text')
      .attr('x', 518).attr('y', p.titleY)
      .attr('text-anchor', 'middle')
      .attr('font-weight', 'bold')
      .attr('font-size', 27)
      .text(stationNames[idx]);

    // y label
    const yt = g.append('text')
      .attr('transform', `translate(31,${p.yLabelY}) rotate(-90)`)
      .attr('text-anchor', 'middle')
      .attr('font-weight', 'bold')
      .attr('font-size', 22);
    yt.append('tspan').text(`BC concentration (${units[idx]} m`);
    yt.append('tspan').attr('font-size', 14).attr('dy', -9).text('-3');
    yt.append('tspan').attr('dy', 9).text(')');

    // legend
    g.append('line')
      .attr('x1', p.legX).attr('x2', p.legX + 31)
      .attr('y1', p.obsLegY).attr('y2', p.obsLegY)
      .attr('stroke', OBS_LINE).attr('stroke-width', 4);
    g.append('path')
      .attr('d', diamondPath(3.6))
      .attr('transform', `translate(${p.legX + 15.5},${p.obsLegY})`)
      .attr('fill', 'url(#markFill)').attr('stroke', OBS_EDGE).attr('stroke-width', 0.6);
    g.append('line')
      .attr('x1', p.legX).attr('x2', p.legX + 31)
      .attr('y1', p.modLegY).attr('y2', p.modLegY)
      .attr('stroke', MODEL).attr('stroke-width', 4.5);
    g.append('text')
      .attr('x', p.legX + 33).attr('y', p.obsLegY)
      .attr('dy', '0.36em')
      .attr('font-size', 24)
      .text(seriesNames[0]);
    g.append('text')
      .attr('x', p.legX + 33).attr('y', p.modLegY)
      .attr('dy', '0.36em')
      .attr('font-size', 24)
      .attr('textLength', 203)
      .attr('lengthAdjust', 'spacing')
      .text(seriesNames[1]);
});
</script>
</body>
</html>
